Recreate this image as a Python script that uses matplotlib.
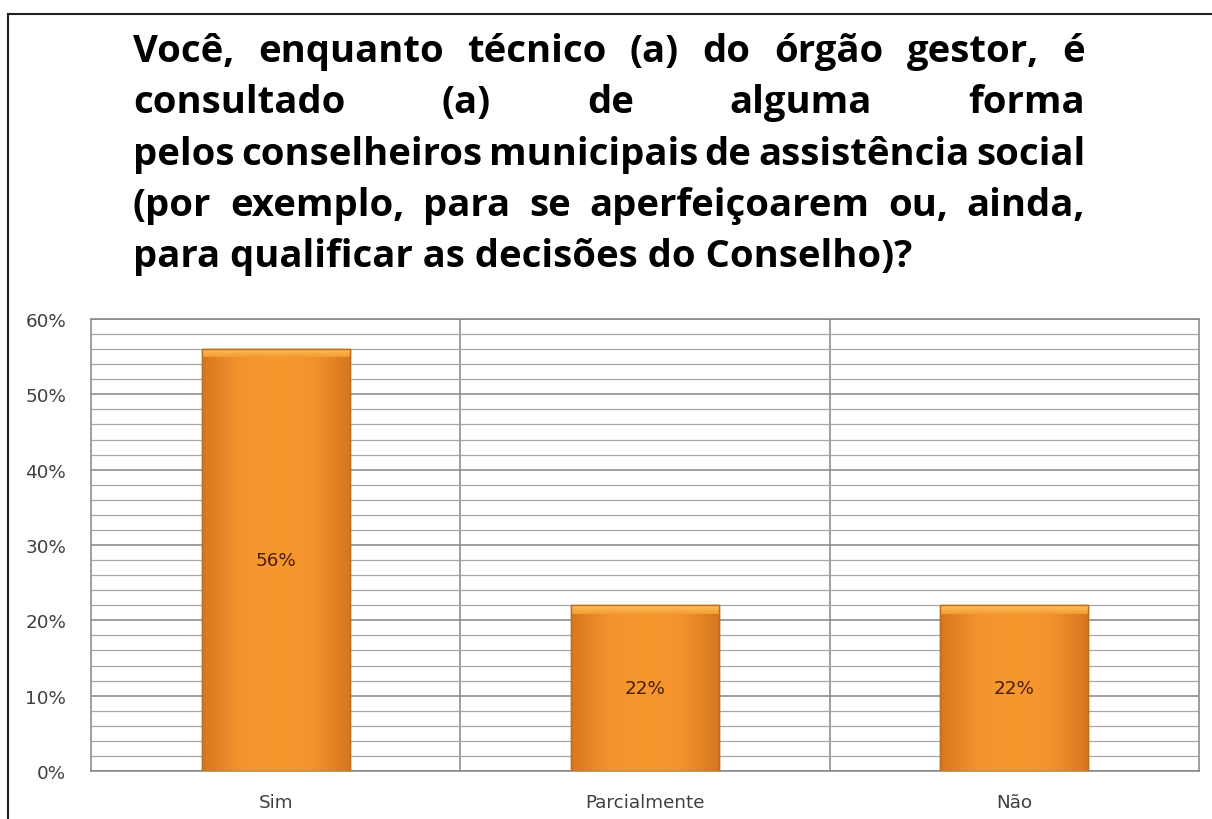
#!/usr/bin/env python3
"""Bar chart: consulta dos conselheiros municipais (Sim / Parcialmente / Não)."""

import matplotlib

matplotlib.use("Agg")
import matplotlib.pyplot as plt
import numpy as np
from matplotlib.colors import LinearSegmentedColormap
from matplotlib.lines import Line2D
from matplotlib.ticker import FuncFormatter, MultipleLocator

categories = ["Sim", "Parcialmente", "Não"]
values = [56, 22, 22]
value_labels = ["56%", "22%", "22%"]

title_lines = [
    "Você, enquanto técnico (a) do órgão gestor,  é",
    "consultado (a) de alguma forma",
    "pelos conselheiros municipais de assistência social",
    "(por exemplo, para se aperfeiçoarem ou, ainda,",
    "para qualificar as decisões do Conselho)?",
]

W, H, DPI = 1212, 820, 100
TITLE_FONT = "Open Sans"
LABEL_FONT = "DejaVu Sans"
BAR_COLOR = "#F5952C"
BAR_EDGE = "#BE6C1E"
LABEL_COLOR = "#404040"
LABEL_SIZE = 13.2

plt.rcParams["font.family"] = [LABEL_FONT]

fig = plt.figure(figsize=(W / DPI, H / DPI), dpi=DPI)
fig.patch.set_facecolor("white")
ax = fig.add_axes([91 / W, 1 - 772 / H, (1199 - 91) / W, (772 - 320) / H])

x = np.arange(len(categories))
bars = ax.bar(x, values, width=0.4, color=BAR_COLOR, edgecolor=BAR_EDGE,
              linewidth=1.0, zorder=3)

# soft horizontal shading inside each bar (darker edges, lighter centre)
shade = LinearSegmentedColormap.from_list(
    "shade", ["#D67720", "#F4932C", "#F7982F", "#F4932C", "#D67720"])
grad = np.linspace(0, 1, 200).reshape(1, -1)
bevel = LinearSegmentedColormap.from_list("bevel", ["#F69A30", "#FBC45E"])
vgrad = np.linspace(0, 1, 50).reshape(-1, 1)
for bar in bars:
    x0, w, h = bar.get_x(), bar.get_width(), bar.get_height()
    im = ax.imshow(grad, cmap=shade, aspect="auto", extent=(x0, x0 + w, 0, h),
                   zorder=3.5, interpolation="bicubic")
    im.set_clip_path(bar)
    # light bevel at the top of the bar
    top = ax.imshow(vgrad, cmap=bevel, aspect="auto", origin="lower",
                    extent=(x0, x0 + w, h - 1.1, h), zorder=3.6,
                    interpolation="bicubic")
    top.set_clip_path(bar)
    ax.bar(x0 + w / 2, h, width=w, facecolor="none", edgecolor=BAR_EDGE,
           linewidth=1.0, zorder=3.7)

for xi, v, lab in zip(x, values, value_labels):
    ax.text(xi, v / 2, lab, ha="center", va="center", fontsize=LABEL_SIZE,
            color="#4A1E08", zorder=5)

ax.set_xlim(-0.5, len(categories) - 0.5)
ax.set_ylim(0, 60)
ax.yaxis.set_major_locator(MultipleLocator(10))
ax.yaxis.set_minor_locator(MultipleLocator(2))
ax.yaxis.set_major_formatter(FuncFormatter(lambda v, _: f"{v:.0f}%"))
ax.grid(which="major", axis="y", color="#858585", linewidth=1.1, zorder=0)
ax.grid(which="minor", axis="y", color="#A8A8A8", linewidth=0.9, zorder=0)
for b in np.arange(0.5, len(categories) - 0.5):
    ax.axvline(b, color="#858585", linewidth=1.1, zorder=0)

ax.set_xticks(x)
ax.set_xticklabels(categories)
ax.tick_params(axis="both", which="both", length=0, labelsize=LABEL_SIZE,
               labelcolor=LABEL_COLOR)
ax.tick_params(axis="y", pad=18)
ax.tick_params(axis="x", pad=16)
for spine in ax.spines.values():
    spine.set_color("#858585")
    spine.set_linewidth(1.1)

# frame lines of the original picture (left and top)
fig.add_artist(Line2D([8 / W, 8 / W], [0, 1 - 15 / H], transform=fig.transFigure,
                      color="#222222", linewidth=1.5))
fig.add_artist(Line2D([8 / W, 1], [1 - 15 / H, 1 - 15 / H],
                      transform=fig.transFigure, color="#222222", linewidth=1.5))

# justified title, word by word; size chosen so the last line is ~775 px wide
renderer = fig.canvas.get_renderer()
left_px, right_px, last_right = 133, 1085, 908
line_y = [52, 103, 155, 206, 257]
title_kw = dict(fontsize=22, fontweight="bold", color="black", va="center",
                ha="left", family=TITLE_FONT)
probe = fig.text(0, 0, title_lines[-1], **title_kw)
size = 22 * (last_right - left_px) / probe.get_window_extent(renderer).width
probe.remove()
title_kw["fontsize"] = size
for i, (line, yc) in enumerate(zip(title_lines, line_y)):
    yf = 1 - yc / H
    if i == len(title_lines) - 1:
        fig.text(left_px / W, yf, line, **title_kw)
        continue
    words = line.split()
    texts = [fig.text(0, yf, w_, **title_kw) for w_ in words]
    widths = [t.get_window_extent(renderer).width for t in texts]
    gap = (right_px - left_px - sum(widths)) / (len(words) - 1)
    pos = left_px
    for t, wd in zip(texts, widths):
        t.set_x(pos / W)
        pos += wd + gap

fig.savefig("out.png", dpi=DPI)
